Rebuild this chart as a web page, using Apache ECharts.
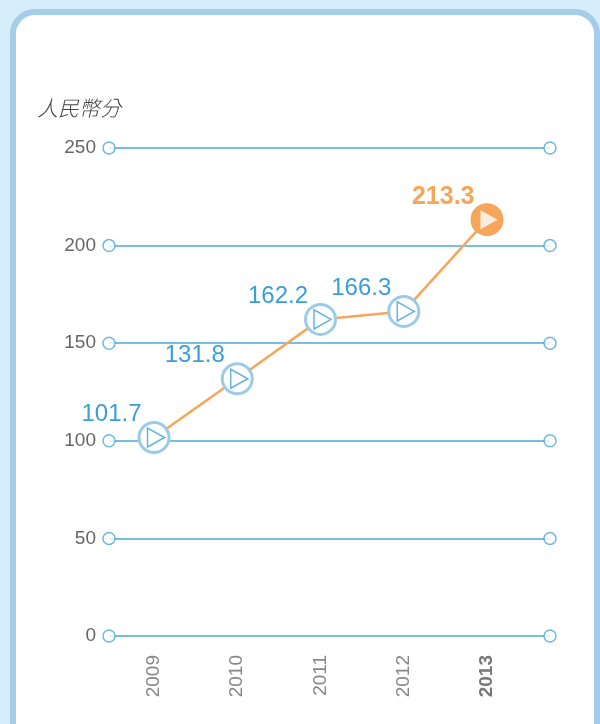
<!DOCTYPE html>
<html><head><meta charset="utf-8">
<script src="https://cdn.jsdelivr.net/npm/echarts@6/dist/echarts.min.js"></script>
<style>html,body{margin:0;padding:0;background:#d5eefa;}#c{width:600px;height:724px;}</style>
</head><body><div id="c"></div>
<script>
var years = ['2009','2010','2011','2012','2013'];
var values = [101.7, 131.8, 162.2, 166.3, 213.3];
var yTicks = [0, 50, 100, 150, 200, 250];
var unitName = '人民幣分';

var chart = echarts.init(document.getElementById('c'));
var lastIdx = values.length - 1;
var ringData = values.map(function(v, i){
  if (i === lastIdx) return {value: v, itemStyle: {color: '#f6a65a', borderColor: '#f6a65a'},
    label: {color: '#f6a65a', fontWeight: 'bold', fontSize: 25}};
  return v;
});
var triData = values.map(function(v, i){
  if (i === lastIdx) return {value: v, itemStyle: {color: '#fff', borderWidth: 0}};
  return v;
});
var endDots = [];
yTicks.forEach(function(t){ endDots.push([0, t]); endDots.push([1, t]); });

var font = '"Liberation Sans", Arial, sans-serif';
chart.setOption({
  animation: false,
  backgroundColor: '#d5eefa',
  graphic: [
    {type: 'rect', z: -10, shape: {x: 13, y: 12, width: 584, height: 740, r: 22},
     style: {fill: '#fff', stroke: '#a3cde9', lineWidth: 6}},
    {type: 'text', left: 37, top: 98, z: 10,
     style: {text: unitName, fontSize: 21, fontStyle: 'italic', fill: '#444',
             fontFamily: '"Noto Sans CJK TC", sans-serif', fontWeight: 300}}
  ],
  grid: [
    {left: 109, right: 50, top: 148, bottom: 88},
    {left: 154, right: 113, top: 148, bottom: 88}
  ],
  xAxis: [
    {gridIndex: 0, type: 'value', min: 0, max: 1, show: false},
    {gridIndex: 1, type: 'category', boundaryGap: false,
     data: years.map(function(y, i){ return i === lastIdx ? {value: y, textStyle: {fontWeight: 'bold', color: '#777'}} : y; }),
     axisLine: {show: false}, axisTick: {show: false}, splitLine: {show: false},
     axisLabel: {rotate: 90, margin: 19, fontSize: 19, color: '#888', fontFamily: font}}
  ],
  yAxis: [
    {gridIndex: 0, type: 'value', min: 0, max: 250, interval: 50,
     axisLine: {show: false}, axisTick: {show: false},
     splitLine: {show: true, lineStyle: {color: '#4aa8dc', width: 1.5}},
     axisLabel: {margin: 13, fontSize: 19, color: '#666', fontFamily: font}},
    {gridIndex: 1, type: 'value', min: 0, max: 250, interval: 50, show: false}
  ],
  series: [
    {type: 'scatter', xAxisIndex: 0, yAxisIndex: 0, data: endDots, symbol: 'circle', symbolSize: 12,
     itemStyle: {color: '#fff', borderColor: '#4aa8dc', borderWidth: 1.5}, silent: true, z: 3},
    {type: 'line', xAxisIndex: 1, yAxisIndex: 1, data: ringData, symbol: 'circle', symbolSize: 30,
     showAllSymbol: true,
     lineStyle: {color: '#f6a65a', width: 2.5},
     itemStyle: {color: '#fff', borderColor: '#9ccbe8', borderWidth: 3},
     label: {show: true, position: 'left', distance: 0, offset: [4, -23], fontSize: 24,
             color: '#3a9fd8', fontFamily: font},
     z: 4},
    {type: 'scatter', xAxisIndex: 1, yAxisIndex: 1, data: triData, symbol: 'triangle',
     symbolRotate: -90, symbolSize: [19, 17], symbolOffset: [2, 0],
     itemStyle: {color: '#fff', borderColor: '#3a9fd8', borderWidth: 1.5}, silent: true, z: 5}
  ]
});
</script></body></html>
